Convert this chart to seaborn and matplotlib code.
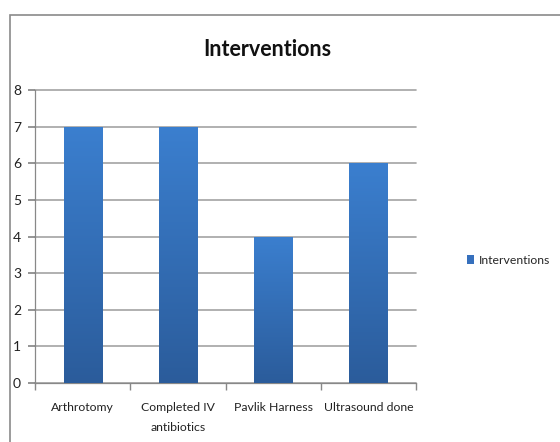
import numpy as np
import pandas as pd
import seaborn as sns
import matplotlib
matplotlib.use("Agg")
import matplotlib.pyplot as plt
from matplotlib.patches import Rectangle, Patch

categories = ["Arthrotomy", "Completed IV\nantibiotics", "Pavlik Harness", "Ultrasound done"]
values = [7, 7, 4, 6]
series_name = "Interventions"
yticks = [0, 1, 2, 3, 4, 5, 6, 7, 8]

sns.set_theme(style="white")
plt.rcParams['font.family'] = ['Lato', 'DejaVu Sans']

df = pd.DataFrame({"cat": categories, "val": values})

W, H = 560, 442
fig = plt.figure(figsize=(W / 100, H / 100), dpi=100)
ax = fig.add_axes([35 / W, 1 - 383 / H, (416 - 35) / W, (383 - 90) / H])

sns.barplot(data=df, x="cat", y="val", color="#3a7ccb", width=0.4, ax=ax,
            saturation=1, zorder=3)

# gradient fill on each bar
grad = np.linspace(0, 1, 256).reshape(-1, 1)
cmap = matplotlib.colors.LinearSegmentedColormap.from_list("g", ["#2b5c9b", "#3b7fcf"])
for p in ax.patches:
    x0, y0 = p.get_x(), p.get_y()
    w, h = p.get_width(), p.get_height()
    im = ax.imshow(grad, cmap=cmap, extent=[x0, x0 + w, y0, y0 + h], origin="lower",
                   aspect="auto", zorder=3.5)
    im.set_clip_path(p)
    p.set_edgecolor("none")

ax.set_xlim(-0.5, len(categories) - 0.5)
ax.set_ylim(0, 8)
ax.set_yticks(yticks)
ax.set_yticklabels([str(t) for t in yticks])
ax.yaxis.grid(True, color="#a3a3a3", linewidth=1.2, zorder=0)
for gl in ax.get_ygridlines():
    gl.set_clip_on(False)
ax.set_axisbelow(True)
ax.set_xlabel("")
ax.set_ylabel("")

for s in ["top", "right"]:
    ax.spines[s].set_visible(False)
for s in ["left", "bottom"]:
    ax.spines[s].set_color("#888888")
    ax.spines[s].set_linewidth(0.9)

ax.set_xticks(np.arange(len(categories)))
ax.set_xticklabels(categories, fontsize=8.8, color="#222222", linespacing=1.9)
ax.tick_params(axis="x", length=0, pad=14)
ax.set_xticks(np.arange(-0.5, len(categories), 1), minor=True)
ax.tick_params(axis="x", which="minor", length=5, color="#888888", direction="out", bottom=True)
ax.tick_params(axis="y", length=5, color="#888888", direction="out", left=True, pad=5,
               labelsize=10, labelcolor="#222222")

fig.text(267 / W, 1 - 49 / H, "Interventions", ha="center", va="center",
         fontsize=15.5, fontweight="bold", color="#111111")

# legend
ax.legend(handles=[Patch(facecolor="#3670bd", edgecolor="none", label=series_name)],
          loc="center left", bbox_to_anchor=(467 / W, 1 - 260 / H),
          bbox_transform=fig.transFigure, frameon=False, fontsize=8.8,
          handlelength=0.6, handleheight=0.7, handletextpad=0.4, borderpad=0,
          borderaxespad=0)

# chart border
fig.patches.append(Rectangle((10 / W, -0.1), 1.2, 1 - 15 / H + 0.1,
                             transform=fig.transFigure, fill=False,
                             edgecolor="#8a8a8a", linewidth=1.2))

fig.savefig("out.png", dpi=100)
